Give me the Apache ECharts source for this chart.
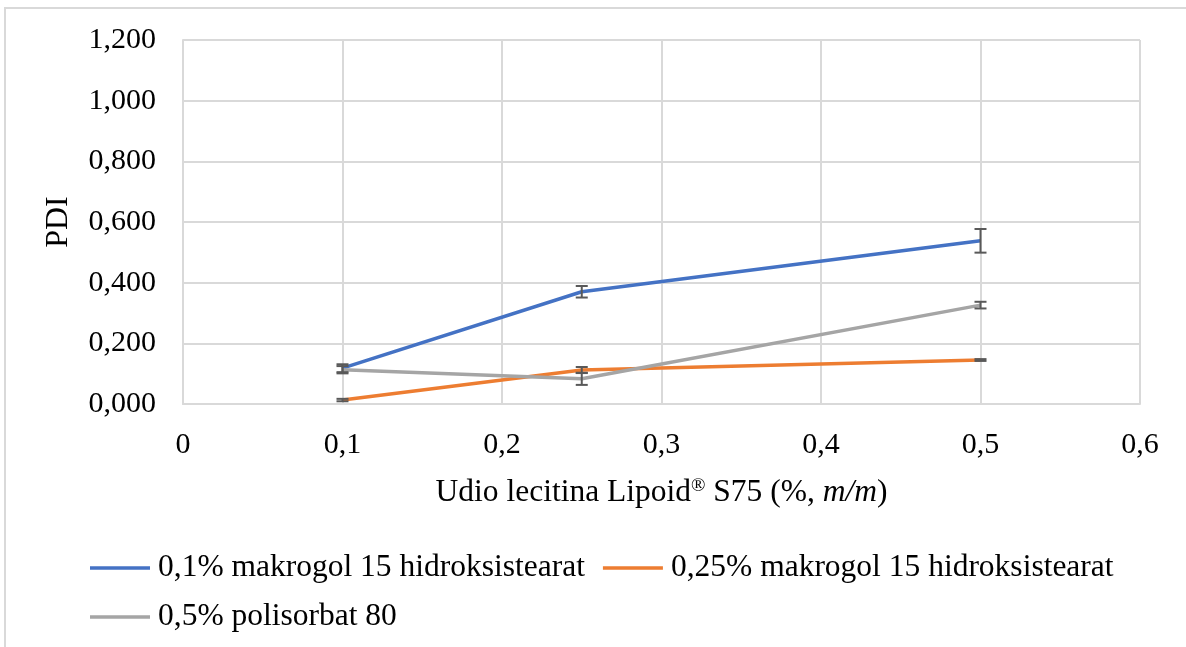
<!DOCTYPE html>
<html>
<head>
<meta charset="utf-8">
<script src="https://cdn.jsdelivr.net/npm/echarts@6/dist/echarts.min.js"></script>
<style>
  html, body { margin: 0; padding: 0; background: #fff; }
  #chart { width: 1186px; height: 647px; }
</style>
</head>
<body>
<div id="chart"></div>
<script>
// udio lecitina (x)
const lecitin = [0.1, 0.25, 0.5];
const seriesNames = ['0,1% makrogol 15 hidroksistearat', '0,25% makrogol 15 hidroksistearat', '0,5% polisorbat 80'];
// PDI values and their error bars
const pdiMakrogol01 = [0.118, 0.370, 0.538];
const errMakrogol01 = [0.013, 0.019, 0.039];
const pdiMakrogol025 = [0.013, 0.112, 0.145];
const errMakrogol025 = [0.004, 0.010, 0.003];
const pdiPolisorbat = [0.113, 0.083, 0.326];
const errPolisorbat = [0.012, 0.020, 0.011];
const colors = ['#4472C4', '#ED7D31', '#A5A5A5'];

const font = '"Liberation Serif", "Times New Roman", serif';

function lineSeries(name, vals, color) {
    return {
        name: name,
        type: 'line',
        data: lecitin.map((x, i) => [x, vals[i]]),
        symbol: 'none',
        lineStyle: { color: color, width: 3.5 },
        itemStyle: { color: color },
        z: 3
    };
}

function errSeries(vals, errs) {
    return {
        type: 'custom',
        data: lecitin.map((x, i) => [x, vals[i] - errs[i], vals[i] + errs[i]]),
        z: 4,
        silent: true,
        renderItem: function (params, api) {
            const lo = api.coord([api.value(0), api.value(1)]);
            const hi = api.coord([api.value(0), api.value(2)]);
            const w = 6;
            const st = { stroke: '#595959', lineWidth: 2 };
            return {
                type: 'group',
                children: [
                    { type: 'line', shape: { x1: lo[0], y1: lo[1], x2: hi[0], y2: hi[1] }, style: st },
                    { type: 'line', shape: { x1: lo[0] - w, y1: lo[1], x2: lo[0] + w, y2: lo[1] }, style: st },
                    { type: 'line', shape: { x1: hi[0] - w, y1: hi[1], x2: hi[0] + w, y2: hi[1] }, style: st }
                ]
            };
        }
    };
}

const chart = echarts.init(document.getElementById('chart'));
const legendCommon = {
    left: 90,
    padding: 0,
    icon: 'rect',
    itemWidth: 60,
    itemHeight: 3.5,
    itemGap: 18,
    textStyle: { fontFamily: font, fontSize: 31.5, color: '#000', padding: [0, 0, 0, 3] }
};
chart.setOption({
    animation: false,
    textStyle: { fontFamily: font },
    graphic: [{
        type: 'rect',
        shape: { x: 5, y: 8, width: 1220, height: 680 },
        style: { fill: 'none', stroke: '#d9d9d9', lineWidth: 2 },
        silent: true
    }],
    legend: [
        Object.assign({ top: 552, data: [seriesNames[0], seriesNames[1]] }, legendCommon),
        Object.assign({ top: 601, data: [seriesNames[2]] }, legendCommon)
    ],
    grid: { left: 183, right: 46, top: 40, bottom: 243 },
    xAxis: {
        type: 'value',
        min: 0, max: 0.6, interval: 0.1,
        name: '{t|Udio lecitina Lipoid}{sup|®}{t| S75 (%, }{i|m/m}{t|)}',
        nameLocation: 'middle',
        nameGap: 73,
        nameTextStyle: {
            rich: {
                t: { fontFamily: font, fontSize: 31.5, color: '#000' },
                sup: { fontFamily: font, fontSize: 19, color: '#000', verticalAlign: 'top', padding: [0, 0, 12, 0] },
                i: { fontFamily: font, fontSize: 31.5, color: '#000', fontStyle: 'italic' }
            }
        },
        axisLine: { show: true, lineStyle: { color: '#d9d9d9', width: 2 } },
        axisTick: { show: false },
        splitLine: { show: true, lineStyle: { color: '#d9d9d9', width: 2 } },
        axisLabel: {
            fontFamily: font, fontSize: 30, color: '#000', margin: 26,
            formatter: v => String(Math.round(v * 10) / 10).replace('.', ',')
        }
    },
    yAxis: {
        type: 'value',
        min: 0, max: 1.2, interval: 0.2,
        name: 'PDI',
        nameLocation: 'middle',
        nameGap: 108,
        nameTextStyle: { fontFamily: font, fontSize: 32, color: '#000' },
        axisLine: { show: true, lineStyle: { color: '#d9d9d9', width: 2 } },
        axisTick: { show: false },
        splitLine: { show: true, lineStyle: { color: '#d9d9d9', width: 2 } },
        axisLabel: {
            fontFamily: font, fontSize: 30, color: '#000', margin: 27,
            formatter: v => v.toFixed(3).replace('.', ',')
        }
    },
    series: [
        lineSeries(seriesNames[0], pdiMakrogol01, colors[0]),
        lineSeries(seriesNames[1], pdiMakrogol025, colors[1]),
        lineSeries(seriesNames[2], pdiPolisorbat, colors[2]),
        errSeries(pdiMakrogol01, errMakrogol01),
        errSeries(pdiMakrogol025, errMakrogol025),
        errSeries(pdiPolisorbat, errPolisorbat)
    ]
});
</script>
</body>
</html>
